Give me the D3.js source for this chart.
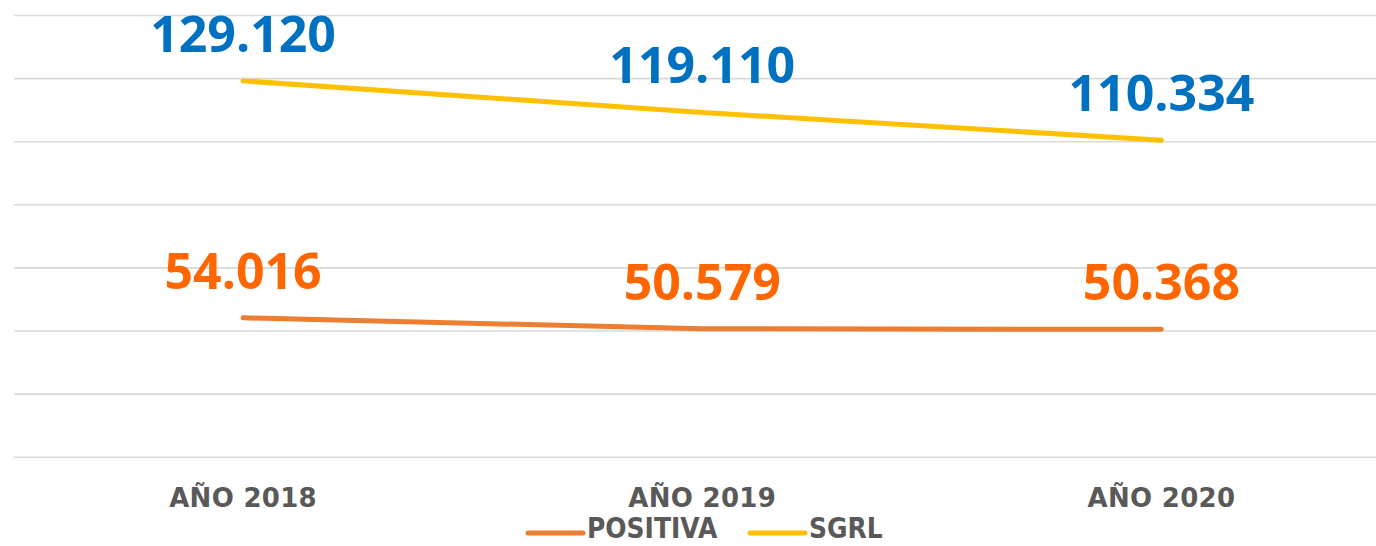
<!DOCTYPE html>
<html>
<head>
<meta charset="utf-8">
<script src="https://cdn.jsdelivr.net/npm/d3@7"></script>
<style>
  html, body { margin: 0; padding: 0; background: #fff; overflow: hidden; }
  svg { display: block; }
</style>
</head>
<body>
<svg id="chart" width="1376" height="546"></svg>
<script>
// data
var years = ["AÑO 2018", "AÑO 2019", "AÑO 2020"];
var positiva = [54016, 50579, 50368];
var sgrl = [129120, 119110, 110334];
var gridTicks = [10000, 30000, 50000, 70000, 90000, 110000, 130000, 150000];
var seriesNames = ["POSITIVA", "SGRL"];

var lineColors = { POSITIVA: "#ED7D31", SGRL: "#FFC000" };
var labelColors = { POSITIVA: "#FF6600", SGRL: "#0070C0" };

var svg = d3.select("#chart");

var x = d3.scalePoint()
  .domain(years)
  .range([13.5, 1391])
  .padding(0.5);

var y = d3.scaleLinear()
  .domain([10000, 150000])
  .range([456.7, 15]);

// gridlines
var grid = svg.append("g")
  .attr("transform", "translate(14,0)")
  .call(d3.axisLeft(y).tickValues(gridTicks).tickSize(-1362).tickFormat(""));
grid.select(".domain").remove();
grid.selectAll("line").attr("stroke", "#D9D9D9").attr("stroke-width", 1.6);

// category labels
svg.append("g").selectAll("text")
  .data(years)
  .enter()
  .append("text")
    .attr("x", function(d){ return x(d) })
    .attr("y", 507)
    .attr("text-anchor", "middle")
    .attr("font-family", "DejaVu Sans")
    .attr("font-weight", "bold")
    .attr("font-size", 26)
    .attr("letter-spacing", 0.3)
    .attr("fill", "#595959")
    .text(function(d){ return d });

var series = [
  { name: "POSITIVA", values: positiva },
  { name: "SGRL", values: sgrl }
];

var line = d3.line()
  .x(function(d, i){ return x(years[i]) })
  .y(function(d){ return y(d) });

series.forEach(function(s){
  svg.append("path")
    .datum(s.values)
    .attr("d", line)
    .attr("fill", "none")
    .attr("stroke", lineColors[s.name])
    .attr("stroke-width", 5)
    .attr("stroke-linecap", "round")
    .attr("stroke-linejoin", "round");

  svg.append("g").selectAll("text")
    .data(s.values)
    .enter()
    .append("text")
      .attr("x", function(d, i){ return x(years[i]) })
      .attr("y", function(d){ return y(d) - 29 })
      .attr("text-anchor", "middle")
      .attr("font-family", "Open Sans")
      .attr("font-weight", "bold")
      .attr("font-size", 50)
      .attr("fill", labelColors[s.name])
      .text(function(d){ return d3.format(",")(d).replace(/,/g, ".") });
});

// legend
var legendPos = { POSITIVA: 528, SGRL: 750 };
var legend = svg.append("g");
seriesNames.forEach(function(name){
  var lx = legendPos[name];
  legend.append("line")
    .attr("x1", lx).attr("x2", lx + 55)
    .attr("y1", 533).attr("y2", 533)
    .attr("stroke", lineColors[name])
    .attr("stroke-width", 5)
    .attr("stroke-linecap", "round");
  legend.append("text")
    .attr("transform", "translate(" + (lx + 59) + ",538) scale(1,1.15)")
    .attr("font-family", "DejaVu Sans")
    .attr("font-weight", "bold")
    .attr("font-size", 25)
    .attr("fill", "#595959")
    .text(name);
});
</script>
</body>
</html>
